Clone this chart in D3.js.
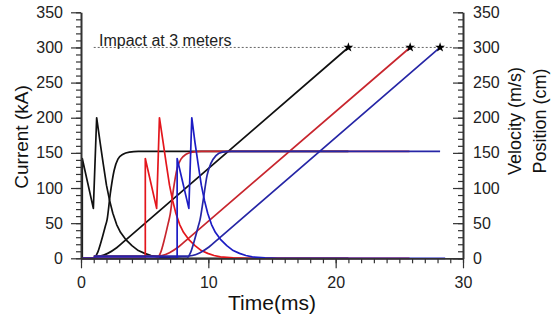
<!DOCTYPE html>
<html><head><meta charset="utf-8">
<script src="https://cdn.jsdelivr.net/npm/d3@7"></script>
<style>
html,body{margin:0;padding:0;background:#fff;}
svg{display:block;font-family:"Liberation Sans",Arial,sans-serif;}
</style></head>
<body>
<svg id="chart" width="557" height="322"></svg>
<script>
// ---- data ----
const xTicks = [0, 10, 20, 30];
const yTicks = [0, 50, 100, 150, 200, 250, 300, 350];

// Current pulses (kA)
const blackCurrentT = [0, 0.1, 0.1, 0.97, 1.23, 1.5, 1.75, 2.0, 2.25, 2.5, 2.8, 3.1, 3.5, 4.0, 4.5, 5.0, 5.5, 6.0, 7.0, 8.0, 21];
const blackCurrentV = [0, 0, 142, 71, 200, 165, 134, 104, 82, 64, 48, 37, 27, 18, 11, 7, 4, 2, 0.5, 0, 0];
const redCurrentT = [0, 5.05, 5.05, 5.94, 6.16, 6.45, 6.7, 6.95, 7.2, 7.45, 7.75, 8.05, 8.45, 8.95, 9.45, 9.95, 10.45, 10.95, 11.95, 12.95, 25.8];
const redCurrentV = [0, 0, 142, 71, 200, 165, 134, 104, 82, 64, 48, 37, 27, 18, 11, 7, 4, 2, 0.5, 0, 0];
const blueCurrentT = [0, 7.55, 7.55, 8.47, 8.7, 8.95, 9.2, 9.45, 9.7, 9.95, 10.25, 10.55, 10.95, 11.45, 11.95, 12.45, 12.95, 13.45, 14.45, 15.45, 28.6];
const blueCurrentV = [0, 0, 142, 71, 200, 165, 134, 104, 82, 64, 48, 37, 27, 18, 11, 7, 4, 2, 0.5, 0, 0];

// Velocity (m/s)
const blackVelT = [0, 1.0, 1.3, 1.6, 1.9, 2.05, 2.3, 2.6, 2.9, 3.3, 3.8, 4.5, 21];
const blackVelV = [0, 0, 8, 25, 45, 55, 92, 125, 141, 148, 151, 152, 152];
const redVelT = [0, 5.95, 6.25, 6.55, 6.85, 7.0, 7.25, 7.55, 7.85, 8.25, 8.75, 9.45, 25.8];
const redVelV = [0, 0, 8, 27, 50, 62, 97, 128, 141, 148, 151, 152, 152];
const blueVelT = [0, 8.3, 8.6, 8.9, 9.2, 9.35, 9.6, 9.9, 10.2, 10.6, 11.1, 11.8, 28.2];
const blueVelV = [0, 0, 8, 25, 45, 55, 83, 118, 135, 146, 151, 152, 152];

// Position (cm)
const blackPosT = [1.0, 1.5, 2.1, 2.8, 3.5, 21.0];
const blackPosV = [2, 3, 7, 15, 26, 300];
const redPosT = [1.0, 5.85, 6.35, 6.95, 7.65, 8.35, 25.85];
const redPosV = [3, 3, 4, 8, 16, 27, 300];
const bluePosT = [1.0, 8.25, 8.75, 9.35, 10.05, 10.75, 28.2];
const bluePosV = [3, 3, 4, 8, 16, 27, 300];

const impactT = [21.0, 25.85, 28.2];
const impactLevel = 300;
const impactLineT = [1.0, 29.2];

// ---- layout ----
const svg = d3.select("#chart");
const x = d3.scaleLinear().domain([0, 30]).range([81, 463]);
const y = d3.scaleLinear().domain([0, 350]).range([258.3, 12.3]);

const zip = (ts, vs) => ts.map((t, i) => [t, vs[i]]);
const lineLin = d3.line().x(d => x(d[0])).y(d => y(d[1]));
const lineSmooth = d3.line().x(d => x(d[0])).y(d => y(d[1])).curve(d3.curveMonotoneX);

const COL = {
  black: {cur: "#111", oth: "#111"},
  red: {cur: "#e3161c", oth: "#c8262e"},
  blue: {cur: "#1c1cc4", oth: "#2626a6"}
};

// impact dotted line
svg.append("path")
  .attr("d", lineLin(impactLineT.map(t => [t, impactLevel])))
  .attr("fill", "none").attr("stroke", "#555").attr("stroke-width", 0.9)
  .attr("stroke-dasharray", "2,2");

svg.append("text").attr("x", 99).attr("y", 45.5)
  .attr("font-size", 16).attr("fill", "#222").text("Impact at 3 meters");

const series = [
  ["black", blackCurrentT, blackCurrentV, blackVelT, blackVelV, blackPosT, blackPosV],
  ["red", redCurrentT, redCurrentV, redVelT, redVelV, redPosT, redPosV],
  ["blue", blueCurrentT, blueCurrentV, blueVelT, blueVelV, bluePosT, bluePosV]
];
const g = svg.append("g");
series.forEach(([c, ct, cv, vt, vv, pt, pv]) => {
  g.append("path").attr("d", lineSmooth(zip(vt, vv)))
    .attr("fill", "none").attr("stroke", COL[c].oth).attr("stroke-width", 1.7);
  g.append("path").attr("d", lineSmooth(zip(pt, pv)))
    .attr("fill", "none").attr("stroke", COL[c].oth).attr("stroke-width", 1.7);
  g.append("path").attr("d", lineLin(zip(ct, cv)))
    .attr("fill", "none").attr("stroke", COL[c].cur).attr("stroke-width", 1.7)
    .attr("stroke-linejoin", "round");
});

// stars
const star = d3.symbol().type(d3.symbolStar).size(30);
impactT.forEach(t => {
  svg.append("path").attr("d", star())
    .attr("transform", `translate(${x(t)},${y(impactLevel)})`)
    .attr("fill", "#000");
});

// ---- axes ----
function styleAxis(sel) {
  sel.selectAll(".domain").attr("stroke", "#333").attr("stroke-width", 1.6);
  sel.selectAll(".tick line").attr("stroke", "#333").attr("stroke-width", 1.2);
  sel.selectAll(".tick text").attr("fill", "#222").attr("font-size", 16)
    .attr("font-family", "Liberation Sans, Arial, sans-serif");
}
const minorY = d3.range(0, 351, 10);
const minorX = d3.range(0, 31, 1);

// left
const gl = svg.append("g").attr("transform", "translate(81,0)");
gl.call(d3.axisLeft(y).tickValues(minorY).tickSize(5).tickFormat("").tickSizeOuter(0));
styleAxis(gl);
const glM = svg.append("g").attr("transform", "translate(81,0)");
glM.call(d3.axisLeft(y).tickValues(yTicks).tickSize(10).tickPadding(8).tickSizeOuter(0));
styleAxis(glM);

// right (ticks inward)
const gr = svg.append("g").attr("transform", "translate(463,0)");
gr.call(d3.axisLeft(y).tickValues(minorY).tickSize(5).tickFormat("").tickSizeOuter(0));
styleAxis(gr);
const grM = svg.append("g").attr("transform", "translate(463,0)");
grM.call(d3.axisLeft(y).tickValues(yTicks).tickSize(10).tickSizeOuter(0));
styleAxis(grM);
grM.selectAll(".tick text").attr("x", 10).attr("text-anchor", "start");

// bottom
const gb = svg.append("g").attr("transform", "translate(0,258.3)");
gb.call(d3.axisBottom(x).tickValues(minorX).tickSize(5).tickFormat("").tickSizeOuter(0));
styleAxis(gb);
const gbM = svg.append("g").attr("transform", "translate(0,258.3)");
gbM.call(d3.axisBottom(x).tickValues(xTicks).tickSize(10).tickPadding(8).tickSizeOuter(0));
styleAxis(gbM);

// axis titles
svg.append("text").attr("x", 272).attr("y", 310).attr("text-anchor", "middle")
  .attr("font-size", 21).attr("fill", "#111").text("Time(ms)");
svg.append("text").attr("transform", "translate(28,137) rotate(-90)")
  .attr("text-anchor", "middle").attr("font-size", 19).attr("fill", "#111").text("Current (kA)");
svg.append("text").attr("transform", "translate(521,121) rotate(-90)")
  .attr("text-anchor", "middle").attr("font-size", 18).attr("fill", "#111").text("Velocity (m/s)");
svg.append("text").attr("transform", "translate(546,121) rotate(-90)")
  .attr("text-anchor", "middle").attr("font-size", 18).attr("fill", "#111").text("Position (cm)");
</script>
</body></html>
